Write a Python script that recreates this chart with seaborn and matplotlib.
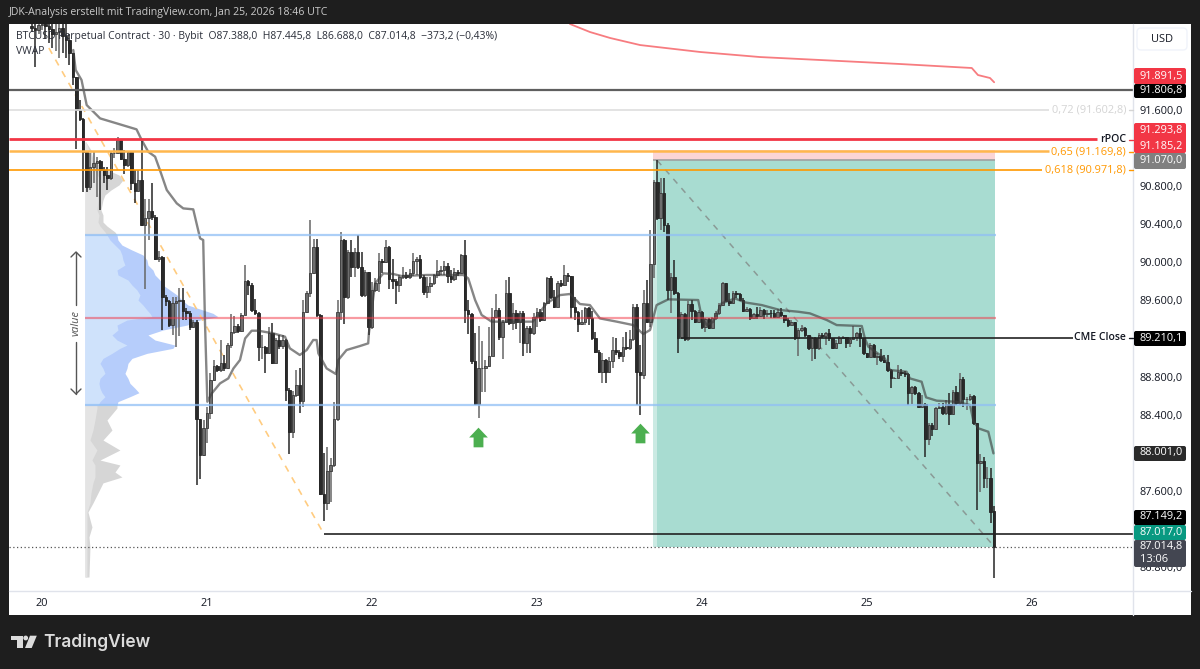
#!/usr/bin/env python3
# plot.py
# BTCUSD 30 minute chart with volume profile, VWAP and trade box
import matplotlib
matplotlib.use("Agg")
import matplotlib.pyplot as plt
from matplotlib.patches import FancyBboxPatch, Polygon, Rectangle, Circle
from matplotlib.transforms import Affine2D
import seaborn as sns

# Candles, half hours since Jan 20 00:00, first one is at -3
FIRST_CANDLE = -3
LAST_OPEN = 87388.0
CLOSES = [
    92460, 92440, 92490, 92500, 92480, 92450, 92400, 92420, 92460, 92380, 92330, 92195, 91950, 91600,
    91510, 91160, 90795, 91005, 91040, 91060, 90965, 90920, 90885, 91145, 91150, 91280, 91090, 91020,
    91160, 90830, 90750, 90860, 90390, 90470, 90540, 90480, 90040, 90060, 89640, 89590, 89340, 89570,
    89590, 89605, 89490, 89470, 89325, 89375, 88360, 87975, 88260, 88415, 88770, 88910, 88875, 88945,
    88890, 89130, 89270, 89335, 89285, 89450, 89800, 89760, 89505, 89470, 89110, 89115, 89050, 89255,
    88945, 89190, 89120, 89185, 88665, 88220, 88605, 88710, 88540, 89480, 89675, 89885, 90160, 89450,
    87570, 87470, 87815, 87870, 88355, 89480, 90235, 89635, 90110, 89955, 90110, 89955, 89660, 89900,
    89325, 89710, 89785, 90010, 90000, 90165, 89830, 89800, 89760, 89850, 89870, 89850, 89885, 90010,
    90040, 89850, 89685, 89750, 89780, 89870, 89910, 89920, 89960, 89855, 89830, 89900, 89890, 90075,
    89505, 89455, 88970, 88515, 88890, 88890, 88915, 89020, 89430, 89500, 89220, 89375, 89675, 89367,
    89465, 89378, 89472, 89150, 89307, 89255, 89430, 89482, 89395, 89570, 89832, 89640, 89535, 89780,
    89762, 89867, 89857, 89535, 89482, 89353, 89378, 89517, 89412, 89202, 89062, 88852, 88975, 88852,
    88968, 89080, 89062, 89017, 89115, 89097, 89195, 89535, 88852, 88817, 89577, 89378, 89983, 90840,
    90462, 90732, 90392, 89710, 89843, 89675, 89202, 89458, 89192, 89563, 89493, 89377, 89482, 89318,
    89402, 89308, 89412, 89465, 89552, 89780, 89598, 89570, 89682, 89668, 89605, 89493, 89507, 89412,
    89458, 89437, 89500, 89454, 89472, 89465, 89430, 89482, 89447, 89395, 89342, 89377, 89202, 89290,
    89307, 89237, 89097, 89202, 89097, 89237, 89227, 89255, 89202, 89097, 89150, 89202, 89213, 89150,
    89192, 89213, 89255, 89202, 89045, 89010, 89132, 89010, 89020, 88975, 88957, 88870, 88782, 88782,
    88852, 88835, 88828, 88632, 88688, 88625, 88485, 88510, 88142, 88292, 88247, 88467, 88485, 88415,
    88513, 88408, 88642, 88527, 88772, 88562, 88562, 88597, 88310, 87897, 87918, 87732, 87732, 87382,
    87014.8,
]
HIGHS = [
    92600, 92550, 92700, 92700, 92700, 92650, 92600, 92650, 92700, 92550, 92500, 92400, 92200, 91950,
    91705, 91520, 91170, 91145, 91160, 91110, 91075, 91000, 91005, 91160, 91200, 91315, 91300, 91180,
    91170, 91170, 90970, 90970, 91270, 90670, 90670, 90830, 90500, 90120, 90067, 89660, 89600, 89640,
    89640, 89735, 89730, 89520, 89490, 89400, 89400, 88360, 88350, 88480, 88835, 88980, 88920, 89190,
    89030, 89150, 89460, 89440, 89350, 89470, 89970, 89815, 89780, 89620, 89480, 89240, 89120, 89320,
    89360, 89210, 89240, 89240, 89200, 88680, 88650, 88870, 88890, 89605, 89700, 90445, 90250, 90250,
    89460, 88000, 88060, 87950, 88530, 89605, 90320, 90250, 90130, 90235, 90150, 90285, 90110, 89920,
    89900, 89790, 89840, 90095, 90040, 90240, 90170, 90040, 89830, 89870, 89955, 89900, 89930, 90095,
    90060, 90080, 89870, 89850, 89850, 89880, 90030, 89960, 90010, 89990, 89920, 89940, 89920, 90090,
    90240, 89605, 89470, 89255, 89330, 89170, 88975, 89320, 89520, 89670, 89520, 89400, 89810, 89845,
    89577, 89500, 89490, 89490, 89330, 89330, 89465, 89517, 89507, 89580, 89845, 89857, 89710, 89800,
    89810, 89972, 89885, 89857, 89640, 89490, 89500, 89535, 89535, 89490, 89272, 89080, 89045, 88990,
    89010, 89220, 89202, 89080, 89220, 89272, 89290, 89563, 89560, 89132, 89710, 89815, 90340, 90860,
    91075, 90882, 90882, 90410, 89885, 90025, 89690, 89475, 89470, 89590, 89605, 89500, 89500, 89493,
    89420, 89412, 89430, 89490, 89570, 89790, 89787, 89675, 89703, 89703, 89675, 89625, 89530, 89517,
    89470, 89528, 89528, 89507, 89500, 89500, 89500, 89510, 89517, 89447, 89412, 89395, 89377, 89307,
    89342, 89325, 89240, 89220, 89220, 89255, 89255, 89272, 89297, 89202, 89185, 89227, 89227, 89213,
    89202, 89332, 89270, 89307, 89210, 89052, 89150, 89143, 89045, 89087, 89027, 89027, 88877, 88800,
    88922, 88877, 88863, 88835, 88700, 88702, 88640, 88607, 88520, 88310, 88310, 88485, 88527, 88527,
    88555, 88625, 88660, 88702, 88835, 88800, 88583, 88618, 88608, 88310, 87988, 87960, 87855, 87837,
    87445.8,
]
LOWS = [
    92420, 92050, 92400, 92440, 92350, 92300, 92250, 92220, 92150, 92200, 92150, 92070, 91860, 91190,
    91480, 90740, 90740, 90760, 90830, 90690, 90550, 90830, 90760, 90865, 91100, 91150, 91070, 90930,
    91000, 90760, 90620, 90740, 90380, 89720, 90235, 90445, 90030, 90000, 89290, 89540, 89320, 89240,
    89115, 89230, 89400, 89400, 89290, 89310, 87660, 87730, 87970, 88100, 88360, 88750, 88850, 88850,
    88860, 88880, 89100, 89250, 89260, 89270, 89450, 89660, 89480, 89450, 88960, 88990, 88840, 89040,
    88930, 88940, 89090, 89090, 88540, 87985, 88160, 88590, 88420, 88485, 89470, 89640, 89880, 89430,
    87560, 87290, 87400, 87480, 87850, 88340, 89395, 89350, 89620, 89850, 89850, 89930, 89640, 89640,
    89240, 89300, 89690, 89690, 89885, 89990, 89725, 89725, 89560, 89690, 89830, 89830, 89830, 89855,
    89865, 89830, 89655, 89630, 89675, 89760, 89840, 89870, 89870, 89785, 89780, 89800, 89860, 89880,
    89360, 89250, 88935, 88500, 88370, 88640, 88640, 88900, 89020, 89420, 89185, 88990, 89370, 89340,
    89290, 89300, 89150, 89017, 89045, 89050, 89240, 89325, 89370, 89390, 89560, 89620, 89520, 89530,
    89740, 89750, 89797, 89412, 89395, 89272, 89342, 89342, 89342, 89185, 89050, 88835, 88730, 88730,
    88840, 88888, 89027, 88990, 88957, 89080, 89080, 89180, 88500, 88397, 88772, 89360, 89325, 89832,
    90445, 90340, 90322, 89605, 89472, 89660, 89045, 89360, 89180, 89180, 89395, 89360, 89360, 89297,
    89272, 89297, 89307, 89400, 89447, 89540, 89590, 89542, 89563, 89622, 89590, 89480, 89480, 89400,
    89412, 89402, 89430, 89402, 89430, 89412, 89420, 89423, 89423, 89367, 89325, 89360, 89190, 89017,
    89272, 89220, 89080, 88968, 88982, 89080, 89202, 89132, 89178, 89090, 89087, 89143, 89192, 89097,
    89115, 89185, 89178, 89115, 89027, 88992, 89003, 89003, 88922, 88957, 88940, 88852, 88677, 88772,
    88782, 88807, 88800, 88502, 88513, 88607, 88467, 88467, 87960, 88082, 88177, 88240, 88457, 88397,
    88397, 88292, 88400, 88502, 88502, 88485, 88450, 88548, 88292, 87400, 87592, 87627, 87627, 87260,
    86688,
]

# VWAP line, candle position and price
VWAP_POS = [
    9.1, 9.8, 11.5, 13, 16.9, 21.7, 27.5, 29, 30.9, 32.9, 34.3, 36.3, 39.2, 41.1, 44, 46, 46.9, 47.4, 48.1,
    49.4, 51.8, 54.2, 55.7, 57.6, 59.1, 61, 62.9, 67.3, 70.7, 72.1, 75, 77, 78.9, 79.9, 80.4, 82.8, 85.5,
    86.2, 88.6, 92.5, 94.9, 95.1, 96.9, 99.3, 102.2, 104.6, 111.9, 122.6, 124, 126, 127.9, 130.8, 136.1,
    142.8, 146.8, 150.7, 153.6, 156.5, 159.4, 162.3, 167.2, 172, 174.9, 176.9, 178.8, 182.2, 190.9, 191.9,
    193.4, 195.3, 197.7, 201.6, 204.5, 209.4, 214.7, 220, 223.4, 228.3, 231.2, 238.5, 239.4, 240.4, 245.2,
    246.7, 251.5, 252.5, 255.9, 257.2, 260.3, 266.1, 270, 270.9, 272.4, 275.3, 276.8,
]
VWAP_PRICE = [
    92230, 92020, 91915, 91652, 91512, 91460, 91397, 91285, 91162, 91110, 90970, 90760, 90620, 90567, 90557,
    90252, 90235, 89395, 88537, 88625, 88730, 88782, 88887, 88975, 89202, 89283, 89283, 89255, 89220, 89098,
    89028, 89080, 89185, 89185, 89045, 88887, 88828, 88975, 89080, 89122, 89150, 89255, 89780, 89885, 89878,
    89857, 89868, 89868, 89832, 89605, 89448, 89378, 89378, 89378, 89570, 89657, 89668, 89563, 89552, 89412,
    89378, 89342, 89248, 89290, 89552, 89612, 89605, 89430, 89342, 89377, 89570, 89622, 89580, 89552, 89500,
    89482, 89465, 89395, 89342, 89332, 89202, 89115, 88992, 88870, 88852, 88782, 88747, 88583, 88548, 88537,
    88502, 88345, 88258, 88222, 87995,
]

# Upper VWAP band, red line at the top
BAND_POS = [153.6, 159.4, 165.3, 174, 191.5, 208.9, 226.4, 249.6, 270.5, 272.3, 275.8, 277]
BAND_PRICE = [92503, 92419, 92356, 92282, 92209, 92156, 92125, 92083, 92041, 91967, 91936, 91891.5]

# Volume profile, outer is total volume and inner the up volume
GREY_HIGH_PRICE = [91264, 91180, 91075, 90991, 90918, 90865, 90813, 90760, 90708, 90655, 90550, 90498,
                   90424, 90382, 90319, 90288]
GREY_HIGH_OUTER = [1, 6, 8, 18, 34, 38, 34, 26, 20, 18, 16, 18, 18, 22, 30, 32]
GREY_HIGH_INNER = [1, 4, 6, 8, 12, 16, 15, 14, 13, 13, 12, 14, 13, 15, 20, 22]
VALUE_PRICE = [90288, 90235, 90182, 90130, 90078, 90025, 89972, 89920, 89868, 89815, 89762, 89710, 89658,
               89605, 89552, 89500, 89465, 89430, 89395, 89342, 89290, 89238, 89185, 89132, 89098, 89045,
               88992, 88940, 88888, 88835, 88782, 88730, 88678, 88632, 88590, 88538, 88500]
VALUE_OUTER = [32, 33, 37, 47, 58, 62, 63, 68, 70, 75, 78, 85, 92, 97, 103, 118, 128, 133, 115, 102, 78, 63,
               70, 90, 88, 62, 47, 43, 42, 40, 43, 45, 50, 54, 45, 33, 32]
VALUE_INNER = [22, 25, 30, 35, 37, 38, 40, 32, 33, 43, 47, 52, 55, 53, 58, 62, 65, 67, 42, 32, 33, 27, 32,
               42, 35, 27, 18, 15, 18, 20, 15, 14, 15, 17, 20, 15, 13]
GREY_LOW_PRICE = [88500, 88471, 88345, 88240, 88135, 88030, 87925, 87873, 87799, 87747, 87685, 87579, 87474,
                  87379, 87222, 87117, 87012, 86697]
GREY_LOW_OUTER = [32, 32, 22, 27, 18, 35, 15, 35, 30, 37, 18, 13, 8, 3, 7, 4, 5, 4]
GREY_LOW_INNER = [12, 12, 10, 8, 5, 12, 7, 10, 10, 10, 8, 6, 5, 2, 2, 2, 2, 2]

# Price levels
LEVEL_BLACK = 91806.8
LEVEL_072 = 91602.8
LEVEL_RPOC = 91293.8
LEVEL_065 = 91169.8
LEVEL_0618 = 90971.8
VAH = 90290
POC = 89416
VAL = 88500
CME_CLOSE = 89210.1
SWEEP_LOW = 87149.2
LAST_PRICE = 87014.8
ENTRY = 91070
STOP = 91185
TARGET = 87017

Y_TICKS = [91600, 90800, 90400, 90000, 89600, 88800, 88400, 87600, 86800]
DAY_POS = [0, 48, 96, 144, 192, 240, 288]
DAY_LABELS = ["20", "21", "22", "23", "24", "25", "26"]
ARROW_POS = [126.8, 174]
ARROW_PRICE = [88166, 88208]

HEADER = "JDK-Analysis erstellt mit TradingView.com, Jan 25, 2026 18:46 UTC"
LEGEND = ("BTCUSD Perpetual Contract · 30 · Bybit  O87.388,0  H87.445,8  L86.688,0  C87.014,8  "
          "−373,2 (−0,43%)")

sns.set_theme(style="white")
plt.rcParams["font.family"] = ["Open Sans", "DejaVu Sans"]

W, H = 1200, 669
fig = plt.figure(figsize=(W / 100, H / 100), dpi=100, facecolor="#1e1e1e")
# figure text and chrome are placed in pixels from the top left
px = Affine2D().scale(1, -1).translate(0, H)
fig.add_artist(Rectangle((9, 24), 1182, 591, transform=px, fc="white", ec="none", zorder=-1))

ax = fig.add_axes([9 / W, 1 - 591 / H, 1124 / W, 567 / H], facecolor="white")
X_MIN, X_MAX = -9.6, 317.4
ax.set_xlim(X_MIN, X_MAX)
ax.set_ylim(86550, 92503)
for s in ax.spines.values():
    s.set_visible(False)

# Trade box
ax.add_patch(Rectangle((178.9, TARGET), 277.2 - 178.9, ENTRY - TARGET, fc="#a8dcd1", ec="none", zorder=1))
ax.add_patch(Rectangle((177.8, TARGET), 1.1, ENTRY - TARGET, fc="#cbeae3", ec="none", zorder=1))
ax.add_patch(Rectangle((177.8, ENTRY), 99.4, STOP - ENTRY, fc="#fbd5d6", ec="none", zorder=1))
ax.hlines(ENTRY, 177.8, 277.2, color="#a0a0a0", lw=1.2, zorder=2)


# Volume profile from its base at the left
def profile(prices, outer, inner, c_outer, c_inner):
    base = 12.5
    scale = 1 / 3.4375
    ax.fill_betweenx(prices, base, [base + v * scale for v in outer], color=c_outer, lw=0, zorder=2)
    ax.fill_betweenx(prices, base, [base + v * scale for v in inner], color=c_inner, lw=0, zorder=2)


profile(GREY_HIGH_PRICE, GREY_HIGH_OUTER, GREY_HIGH_INNER, "#d6d6d6", "#e4e4e4")
profile(VALUE_PRICE, VALUE_OUTER, VALUE_INNER, "#b6cdfb", "#cfe2fb")
profile(GREY_LOW_PRICE, GREY_LOW_OUTER, GREY_LOW_INNER, "#d6d6d6", "#e4e4e4")

# Dashed fib and trade diagonals
ax.plot([2, 82], [92251, SWEEP_LOW], color="#ffcc80", lw=1.2, ls=(0, (4, 4)), zorder=3)
ax.plot([179, 277], [ENTRY, TARGET], color="#8a9a96", lw=1.1, ls=(0, (4, 4)), zorder=3)

# Candles
positions = list(range(FIRST_CANDLE, FIRST_CANDLE + len(CLOSES)))
opens = [CLOSES[0] + 20] + CLOSES[:-1]
opens[-1] = LAST_OPEN
for pos, o, h, l, c in zip(positions, opens, HIGHS, LOWS, CLOSES):
    up = c >= o
    ax.vlines(pos, l, h, color="#666666" if up else "#262626", lw=1.1, zorder=4)
    ax.bar(pos, abs(c - o), bottom=min(o, c), width=0.72, color="#6e6e6e" if up else "#2a2a2a",
           edgecolor="#3a3a3a" if up else "#222222", linewidth=0.6, zorder=5)

# VWAP and upper band
sns.lineplot(x=VWAP_POS, y=VWAP_PRICE, ax=ax, color="#3c3c3c", alpha=0.62, lw=1.7, estimator=None,
             sort=False, legend=False, zorder=6)
sns.lineplot(x=BAND_POS, y=BAND_PRICE, ax=ax, color="#f77c80", lw=1.3, estimator=None, sort=False,
             legend=False, zorder=6)

# Levels on the whole width or up to their label
ax.axhline(LEVEL_BLACK, color="#5f5f5f", lw=1.6, zorder=6)
ax.hlines(LEVEL_072, X_MIN, 293, color="#dedede", lw=1.2, zorder=6)
ax.hlines(LEVEL_RPOC, X_MIN, 306.9, color="#f23645", lw=2, zorder=6)
ax.hlines(LEVEL_065, X_MIN, 293, color="#ffb74d", lw=1.8, zorder=6)
ax.hlines(LEVEL_0618, X_MIN, 291, color="#ff9800", lw=1.2, zorder=6)
ax.hlines([VAH, VAL], 12.5, 277.5, color="#90bff5", lw=1.6, alpha=0.75, zorder=6)
ax.hlines(POC, 12.5, 277.5, color="#f23645", lw=1.6, alpha=0.5, zorder=6)
ax.hlines(CME_CLOSE, 186, 300, color="#222222", lw=1.2, zorder=6)
ax.hlines(SWEEP_LOW, 82, X_MAX, color="#222222", lw=1.2, zorder=6)
ax.axhline(LAST_PRICE, color="#555555", lw=0.9, ls=(0, (1, 2)), zorder=6)

# Green arrows
arrow_marker = [(0, 1), (0.95, 0), (0.5, 0), (0.5, -1), (-0.5, -1), (-0.5, 0), (-0.95, 0), (0, 1)]
ax.scatter(ARROW_POS, ARROW_PRICE, marker=arrow_marker, s=200, color="#4caf50", lw=0, zorder=7)

# Axes ticks, price labels read like 90.800,0
ax.yaxis.tick_right()
ax.set_yticks(Y_TICKS)
ax.set_yticklabels([f"{t // 1000}.{t % 1000:03d},0" for t in Y_TICKS])
ax.set_xticks(DAY_POS)
ax.set_xticklabels(DAY_LABELS)
ax.tick_params(axis="y", length=0, pad=5, labelsize=7.9, labelcolor="#131722")
ax.tick_params(axis="x", length=0, pad=5, labelsize=7.9, labelcolor="#131722")
for t in ax.get_yticklabels():
    t.set_horizontalalignment("left")


def ftext(x, y, s, **kw):
    kw.setdefault("va", "center")
    kw.setdefault("ha", "left")
    kw.setdefault("fontsize", 7.9)
    kw.setdefault("color", "#131722")
    fig.text(x, y, s, transform=px, **kw)


def price_box(y0, y1, color, rows):
    fig.add_artist(FancyBboxPatch((1134, y0), 52, y1 - y0, boxstyle="round,pad=0,rounding_size=2", transform=px,
                                  fc=color, ec="none", zorder=5))
    for y, s in rows:
        fig.text(1140, y, s, transform=px, va="center", ha="left", fontsize=7.9, color="white", zorder=6)


# Panel borders
fig.add_artist(plt.Line2D([1133, 1133], [24, 615], transform=px, color="#e0e3eb", lw=1, zorder=2))
fig.add_artist(plt.Line2D([9, 1191], [591, 591], transform=px, color="#e0e3eb", lw=1, zorder=2))

price_box(68, 84, "#f23645", [(76, "91.891,5")])
price_box(84, 98, "#000000", [(91, "91.806,8")])
price_box(123, 153, "#f23645", [(131, "91.293,8"), (146, "91.185,2")])
price_box(153, 169, "#808080", [(161, "91.070,0")])
price_box(331, 346, "#000000", [(338, "89.210,1")])
price_box(446, 461, "#2a2a2a", [(453, "88.001,0")])
price_box(510, 525, "#000000", [(517, "87.149,2")])
price_box(525, 540, "#089981", [(532, "87.017,0")])
price_box(540, 567, "#434651", [(547, "87.014,8"), (559, "13:06")])

# Level labels with their small tick marks
level_labels = [
    (110, "0,72 (91.602,8)", "#d4d4d4", "normal", 7.9),
    (140, "rPOC", "#131722", "semibold", 7.6),
    (151.5, "0,65 (91.169,8)", "#ff9800", "normal", 7.9),
    (170, "0,618 (90.971,8)", "#ff9800", "normal", 7.9),
    (338, "CME Close", "#131722", "semibold", 7.5),
]
for y, s, col, weight, size in level_labels:
    ftext(1126, y, s, ha="right", color=col, fontweight=weight, fontsize=size)
    tick_col = "#f23645" if s == "rPOC" else col
    fig.add_artist(plt.Line2D([1129, 1133], [y, y], transform=px, color=tick_col, lw=1, zorder=3))

# USD button
fig.add_artist(FancyBboxPatch((1137, 28), 50, 22, boxstyle="round,pad=0,rounding_size=4", transform=px, fc="white",
                              ec="#f0f3fa", lw=1, zorder=3))
ftext(1162, 39, "USD", ha="center", zorder=4)

# Value arrow, label in the gap
ax_col = "#555555"
fig.add_artist(plt.Line2D([76, 76], [252, 305], transform=px, color=ax_col, lw=1, zorder=4))
fig.add_artist(plt.Line2D([76, 76], [342, 394], transform=px, color=ax_col, lw=1, zorder=4))
fig.add_artist(plt.Line2D([71, 76, 81], [257, 252, 257], transform=px, color=ax_col, lw=1, zorder=4))
fig.add_artist(plt.Line2D([71, 76, 81], [389, 394, 389], transform=px, color=ax_col, lw=1, zorder=4))
ftext(76, 323, "value", ha="center", rotation=90, style="italic", color="#555555")

# Legend and header
ftext(16, 37, LEGEND, fontsize=7.5, color="#2a2e39", zorder=4)
ftext(16, 52, "VWAP", fontsize=7.5, color="#2a2e39", zorder=4)
ftext(9, 13, HEADER, fontsize=7.6, color="#c9c9c9")

# TradingView logo
logo = "#dcdcdc"
fig.add_artist(Polygon([(10.7, 635.7), (22.7, 635.7), (22.7, 648), (16.7, 648), (16.7, 640), (10.7, 640)],
                       closed=True, transform=px, fc=logo, ec="none"))
fig.add_artist(Circle((25.7, 638), 2.4, transform=px, fc=logo, ec="none"))
fig.add_artist(Polygon([(30, 635.7), (36.8, 635.7), (31.7, 648), (25, 648)], closed=True, transform=px, fc=logo,
                       ec="none"))
ftext(43, 642, "TradingView", fontsize=12.5, color=logo, fontweight="semibold", family="Inter")

fig.savefig("out.png", dpi=100, facecolor=fig.get_facecolor())
